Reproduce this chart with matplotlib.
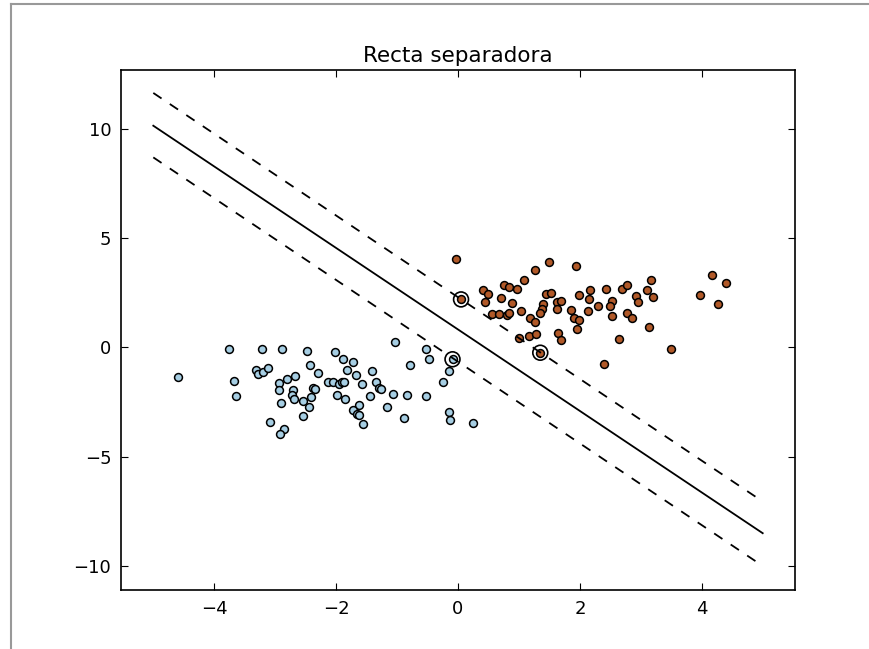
"""
Recta separadora: SVM lineal con margenes y vectores soporte.
"""
import matplotlib
matplotlib.use('Agg')
import matplotlib.pyplot as plt
from matplotlib.lines import Line2D

# ── Datos ────────────────────────────────────────────────────────────────────
clase0_x = [-4.60, -3.75, -3.67, -3.65, -3.21, -2.89, -2.47, -3.31, -3.29, -3.20,
            -3.11, -2.43, -2.30, -2.93, -2.81, -2.67, -2.94, -2.71, -2.73, -2.69,
            -2.54, -2.41, -2.38, -2.34, -2.90, -2.44, -2.54, -3.08, -2.85, -2.92,
            -2.02, -1.89, -1.73, -1.82, -1.67, -1.41, -2.13, -2.05, -1.95, -1.90,
            -1.87, -1.58, -1.35, -1.29, -1.27, -1.99, -1.85, -1.45, -1.07, -0.84,
            -0.53, -1.62, -1.72, -1.66, -1.62, -1.56, -1.16, -0.88, -1.04, -0.53,
            -0.48, -0.79, -0.09, -0.14, -0.25, -0.14, -0.13, 0.25]
clase0_y = [-1.34, -0.05, -1.54, -2.21, -0.05, -0.08, -0.14, -1.01, -1.22, -1.10,
            -0.93, -0.78, -1.19, -1.62, -1.45, -1.31, -1.94, -1.95, -2.18, -2.38,
            -2.43, -2.27, -1.84, -1.92, -2.56, -2.73, -3.14, -3.40, -3.72, -3.97,
            -0.22, -0.54, -0.65, -1.01, -1.28, -1.08, -1.57, -1.56, -1.65, -1.59,
            -1.59, -1.65, -1.59, -1.84, -1.89, -2.16, -2.37, -2.20, -2.14, -2.16,
            -2.20, -2.65, -2.84, -3.05, -3.11, -3.52, -2.73, -3.22, 0.24, -0.09,
            -0.52, -0.78, -0.54, -1.08, -1.59, -2.96, -3.33, -3.45]

clase1_x = [-0.04, 0.05, 1.50, 1.26, 1.08, 0.76, 0.84, 0.96, 0.41, 0.50,
            0.70, 0.44, 0.88, 1.45, 1.53, 1.40, 1.62, 1.38, 1.34, 1.62,
            0.56, 0.67, 0.81, 0.84, 1.04, 1.18, 1.26, 1.00, 1.17, 1.28,
            1.35, 1.93, 1.69, 1.99, 2.17, 2.15, 2.43, 2.69, 2.78, 3.16,
            3.10, 3.20, 2.92, 2.96, 2.53, 2.50, 2.29, 2.14, 1.86, 1.90,
            1.98, 2.52, 2.78, 2.86, 1.96, 3.13, 1.64, 1.69, 2.64, 2.40,
            4.17, 4.40, 3.97, 4.27, 3.50]
clase1_y = [4.07, 2.20, 3.92, 3.54, 3.11, 2.88, 2.78, 2.69, 2.62, 2.46,
            2.27, 2.07, 2.05, 2.44, 2.49, 1.97, 2.07, 1.74, 1.59, 1.77,
            1.51, 1.54, 1.50, 1.59, 1.66, 1.33, 1.16, 0.44, 0.52, 0.61,
            -0.24, 3.72, 2.11, 2.38, 2.64, 2.23, 2.67, 2.69, 2.84, 3.08,
            2.65, 2.32, 2.35, 2.09, 2.12, 1.89, 1.92, 1.69, 1.71, 1.34,
            1.28, 1.43, 1.56, 1.36, 0.86, 0.93, 0.64, 0.33, 0.41, -0.76,
            3.34, 2.94, 2.39, 1.97, -0.06]

sv_x = [0.05, 1.35, -0.09]
sv_y = [2.20, -0.24, -0.54]

# extremos de la recta y de los margenes
recta_x = [-5, 5]
recta_y = [10.15, -8.5]
margen_sup_y = [11.65, -7.05]
margen_inf_y = [8.7, -10.0]

COLOR_0 = '#a6cee3'   # Paired, primer color
COLOR_1 = '#b15928'   # Paired, ultimo color

# ── Figura ───────────────────────────────────────────────────────────────────
fig = plt.figure(figsize=(8.7, 6.49), dpi=100, facecolor='white')
ax = fig.add_axes([121 / 870, 1 - 590 / 649, 674 / 870, 520 / 649])

ax.plot(recta_x, recta_y, 'k-', linewidth=1.3)
ax.plot(recta_x, margen_sup_y, 'k--', linewidth=1.3, dashes=(5.5, 5.5))
ax.plot(recta_x, margen_inf_y, 'k--', linewidth=1.3, dashes=(5.5, 5.5))

ax.scatter(sv_x, sv_y, s=115, facecolors='none', edgecolors='k', linewidths=1.2)
ax.scatter(clase0_x, clase0_y, s=32, c=COLOR_0, edgecolors='k', linewidths=1.1)
ax.scatter(clase1_x, clase1_y, s=32, c=COLOR_1, edgecolors='k', linewidths=1.1)

ax.set_xlim(-5.53, 5.53)
ax.set_ylim(-11.1, 12.7)
ax.set_xticks([-4, -2, 0, 2, 4])
ax.set_yticks([-10, -5, 0, 5, 10])
ax.tick_params(direction='in', top=True, right=True, length=5, width=0.8,
               labelsize=13, pad=7, colors='black')
for s in ax.spines.values():
    s.set_linewidth(1.2)

ax.set_title('Recta separadora', fontsize=15.5, pad=6)

# marco gris de la captura
fig.add_artist(Line2D([11 / 870, 11 / 870], [0, 1 - 4 / 649],
                      color='#999999', linewidth=1.5))
fig.add_artist(Line2D([11 / 870, 1], [1 - 4 / 649, 1 - 4 / 649],
                      color='#999999', linewidth=1.5))

fig.savefig('out.png', dpi=100, facecolor='white')
plt.close(fig)
